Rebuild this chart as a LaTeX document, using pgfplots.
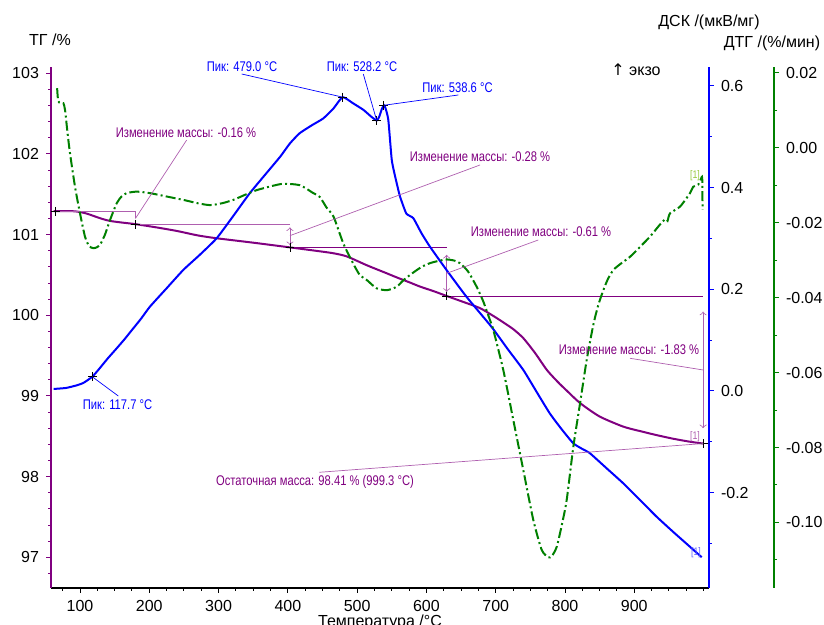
\documentclass[border=0pt]{standalone}
\usepackage{pgfplots}
\pgfplotsset{compat=1.18}
\usepackage{pgfplotstable}
\usepackage{fontspec}
\setmainfont{Liberation Sans}
\newfontfamily\narrow[FakeStretch=0.8]{Liberation Sans}
\newfontfamily\dejavu{DejaVu Sans}

\definecolor{tgc}{RGB}{128,0,128}
\definecolor{tgl}{RGB}{175,95,175}
\definecolor{dscc}{RGB}{0,0,255}
\definecolor{dtgc}{RGB}{0,128,0}
\definecolor{onegr}{RGB}{150,200,60}

\newcommand\af{\narrow\fontsize{7}{8}\selectfont}

% TG, mass /%
\pgfplotstableread{
T TG
62 101.29
90 101.29
100 101.28
110 101.26
120 101.23
132 101.195
143 101.17
160 101.15
180 101.13
210 101.09
240 101.045
270 100.99
297 100.955
350 100.90
400 100.845
440 100.80
465 100.77
485 100.73
514 100.62
540 100.53
557 100.47
575 100.41
591 100.355
610 100.30
629 100.24
655 100.16
677 100.09
695 100.00
706 99.94
725 99.83
740 99.715
757 99.53
774 99.32
790 99.17
802 99.07
822 98.91
850 98.745
884 98.62
908 98.565
932 98.515
956 98.47
980 98.433
999.3 98.41
}\tgdata

% DSC /(uV/mg)
\pgfplotstableread{
T DSC
62 0.004
80 0.006
95 0.011
105 0.016
117.7 0.028
128 0.044
140 0.064
153 0.084
165 0.103
175 0.120
188 0.142
201 0.166
225 0.202
249 0.238
273 0.268
297 0.300
320 0.342
345 0.389
370 0.430
389 0.461
403 0.487
417 0.507
435 0.523
451 0.536
466 0.556
479.0 0.578
494 0.566
509 0.553
520 0.540
528.2 0.532
532 0.540
536 0.556
538.6 0.562
541 0.556
545 0.533
550 0.454
556 0.415
562 0.382
571 0.349
581 0.340
593 0.310
605 0.284
629 0.238
658 0.185
694 0.126
717 0.083
740 0.041
760 -0.004
778 -0.044
795 -0.075
812 -0.103
825 -0.114
836 -0.1225
860 -0.152
884 -0.1815
908 -0.214
932 -0.247
956 -0.277
980 -0.306
997.3 -0.327
}\dscdata

% DTG /(%/min)
\pgfplotstableread{
T DTG
67 0.0159
68.5 0.0125
72 0.0119
76 0.0119
78.4 0.0101
82 0.0040
85.6 -0.0015
92.8 -0.0104
100 -0.0175
107.2 -0.0237
113 -0.0262
119.2 -0.0268
125 -0.0265
128.9 -0.0259
136 -0.0232
143.3 -0.0193
153 -0.0148
160 -0.0130
167.4 -0.0121
181.8 -0.0117
201 -0.0121
225 -0.0130
249 -0.0139
270 -0.0148
287.6 -0.0153
305 -0.0148
321.3 -0.0139
340 -0.0124
355 -0.0113
375 -0.0103
393.4 -0.0096
417.5 -0.0100
436.7 -0.0121
446 -0.0131
456 -0.0160
466 -0.0184
480 -0.0255
494 -0.0308
504 -0.0340
514 -0.0353
528 -0.0375
543 -0.0380
557 -0.0371
567 -0.0353
581 -0.0333
593 -0.0318
605 -0.0308
617 -0.0302
629 -0.0298
640 -0.0301
648.4 -0.0308
660 -0.0330
672.5 -0.0371
682 -0.0410
691.7 -0.0460
696.5 -0.0486
710.9 -0.0593
725.4 -0.0727
739.8 -0.0860
754.2 -0.0993
766.3 -0.1073
775.9 -0.1093
781 -0.1090
788 -0.1065
795 -0.1010
802.4 -0.0940
812 -0.0798
821.7 -0.0682
831.3 -0.0566
840.9 -0.0472
848 -0.0420
855.3 -0.0380
862 -0.0350
869.8 -0.0326
880 -0.0310
893.8 -0.0291
908 -0.0265
922.7 -0.0237
937 -0.0205
945 -0.0190
948 -0.0195
951.5 -0.0175
966 -0.0157
980.4 -0.0121
985 -0.0104
992.4 -0.0098
996 -0.0084
998 -0.0081
998.5 -0.0166
}\dtgdata

\pgfplotsset{
  base/.style={
    scale only axis, height=260.5pt,
    at={(25.5pt,18.5pt)}, anchor=south west,
    xmin=58.146,
    font=\fontsize{8}{9.6}\selectfont,
    tick align=outside, major tick length=2.5pt, minor tick length=1.5pt,
    /pgf/number format/assume math mode=true,
    axis line style={-}, separate axis lines,
    every tick/.append style={line width=0.5pt},
  },
}

\begin{document}
\begin{tikzpicture}
\useasboundingbox (0,0) rectangle (412pt,312.5pt);

% ---------- TG ----------
\begin{axis}[base, width=329pt, xmax=1007.80,
    ymin=96.6195, ymax=103.078,
    axis x line*=bottom, axis y line*=left,
    x axis line style={black, line width=0.6pt},
    y axis line style={tgc, line width=0.9pt},
    xtick={100,200,...,900}, minor xtick={75,100,...,1000},
    ytick={97,98,...,103}, minor ytick={96.8,97.0,...,103.0},
    xtick style={black}, ytick style={tgc},
    xticklabel style={black}, yticklabel style={black},
  ]
  \addplot[tgc, line width=1pt, smooth, tension=0.4] table[x=T, y=TG] {\tgdata};
  \addplot[only marks, mark=+, mark size=2.2pt, black, mark options={line width=0.4pt}]
    coordinates {(65,101.29) (180,101.13) (403,100.845) (629.2,100.24) (999.3,98.41)};
  % step lines of the mass changes
  \draw[tgl, line width=0.4pt] (axis cs:62,101.29) -- (axis cs:180,101.29) -- (axis cs:180,101.20);
  \draw[tgl, line width=0.4pt] (axis cs:180,101.13) -- (axis cs:403,101.13);
  \draw[tgc, line width=0.4pt] (axis cs:403,100.845) -- (axis cs:629.2,100.845);
  \draw[tgc, line width=0.4pt] (axis cs:629.2,100.24) -- (axis cs:999.3,100.24);
  \draw[tgl, line width=0.4pt, <->, >=to] (axis cs:403,101.09) -- (axis cs:403,100.87);
  \draw[tgl, line width=0.4pt, <->, >=to] (axis cs:629.2,100.75) -- (axis cs:629.2,100.29);
  \draw[tgl, line width=0.4pt, <->, >=to] (axis cs:999.3,100.045) -- (axis cs:999.3,98.60);
  \coordinate (c1) at (axis cs:180,101.20);
  \coordinate (c2) at (axis cs:403,100.987);
  \coordinate (c3) at (axis cs:629.2,100.52);
  \coordinate (c4) at (axis cs:999.3,99.322);
  \coordinate (c5) at (axis cs:999.3,98.41);
\end{axis}

% ---------- DSC ----------
\begin{axis}[base, width=329pt, xmax=1007.80,
    ymin=-0.38749, ymax=0.63730,
    hide x axis, axis y line*=right,
    y axis line style={dscc, line width=0.9pt},
    ytick={-0.2,0,0.2,0.4,0.6}, minor ytick={-0.3,-0.1,0.1,0.3,0.5},
    ytick style={dscc}, yticklabel style={black},
    yticklabel={\pgfmathprintnumber[fixed, fixed zerofill, precision=1]{\tick}},
  ]
  \addplot[dscc, line width=1pt, smooth, tension=0.3] table[x=T, y=DSC] {\dscdata};
  \addplot[only marks, mark=+, mark size=2.2pt, black, mark options={line width=0.4pt}]
    coordinates {(117.7,0.028) (479.0,0.578) (528.2,0.532) (538.6,0.562)};
  \coordinate (d1) at (axis cs:117.7,0.028);
  \coordinate (d2) at (axis cs:479.0,0.578);
  \coordinate (d3) at (axis cs:528.2,0.532);
  \coordinate (d4) at (axis cs:538.6,0.562);
\end{axis}

% ---------- DTG ----------
\begin{axis}[base, width=361.5pt, xmax=1101.62,
    ymin=-0.11749, ymax=0.021566,
    hide x axis, axis y line*=right,
    y axis line style={dtgc, line width=0.9pt},
    ytick={-0.10,-0.08,-0.06,-0.04,-0.02,0,0.02},
    minor ytick={-0.11,-0.09,-0.07,-0.05,-0.03,-0.01,0.01},
    ytick style={dtgc}, yticklabel style={black},
    yticklabel={\pgfmathprintnumber[fixed, fixed zerofill, precision=2]{\tick}},
  ]
  \addplot[dtgc, line width=1pt, smooth, tension=0.4,
    dash pattern=on 5pt off 1.6pt on 1pt off 1.6pt]
    table[x=T, y=DTG] {\dtgdata};
\end{axis}

% ---------- labels and annotations ----------
\begin{scope}[x=0.5pt, y=-0.5pt, shift={(0pt,312.5pt)}]
  \begin{scope}[font=\fontsize{8}{9.6}\selectfont]
    \node at (50,40) {ТГ /\%};
    \node at (709,22) {ДСК /(мкВ/мг)};
    \node at (772,43) {ДТГ /(\%/мин)};
    \node at (380,622) {Температура /°C};
    \node at (636,70) {{\dejavu ↑} экзо};
  \end{scope}

  % peaks
  \begin{scope}[dscc, line width=0.35pt]
    \draw (118.3,396) -- (d1);
    \draw (241.7,74) -- (d2);
    \draw (363.3,74) -- (d3);
    \draw (458.3,95) -- (d4);
    \node[font=\af] at (117.5,405) {Пик: 117.7 °C};
    \node[font=\af] at (242,66.5) {Пик: 479.0 °C};
    \node[font=\af] at (362,66.5) {Пик: 528.2 °C};
    \node[font=\af] at (457.5,88) {Пик: 538.6 °C};
  \end{scope}

  % mass changes
  \begin{scope}[line width=0.35pt]
    \draw[tgl] (c1) -- (186.7,140);
    \draw[tgl] (c2) -- (480,165);
    \draw[tgl] (c3) -- (538.3,240);
    \draw[tgl] (c4) -- (630,358.3);
    \draw[tgl] (c5) -- (319.3,472.3);
  \end{scope}
  \begin{scope}[text=tgc]
    \node[font=\af] at (186,133) {Изменение массы: -0.16 \%};
    \node[font=\af] at (480,157) {Изменение массы: -0.28 \%};
    \node[font=\af] at (541,232) {Изменение массы: -0.61 \%};
    \node[font=\af] at (629,350) {Изменение массы: -1.83 \%};
    \node[font=\af] at (315,482) {Остаточная масса: 98.41 \% (999.3 °C)};
  \end{scope}
  \node[font=\narrow\fontsize{5.5}{6}\selectfont, text=onegr] at (695,176) {[1]};
  \node[font=\narrow\fontsize{5.5}{6}\selectfont, text=tgl] at (695,437) {[1]};
  \node[font=\narrow\fontsize{5.5}{6}\selectfont, text=dscc!60] at (696,553) {[1]};
\end{scope}
\end{tikzpicture}
\end{document}
